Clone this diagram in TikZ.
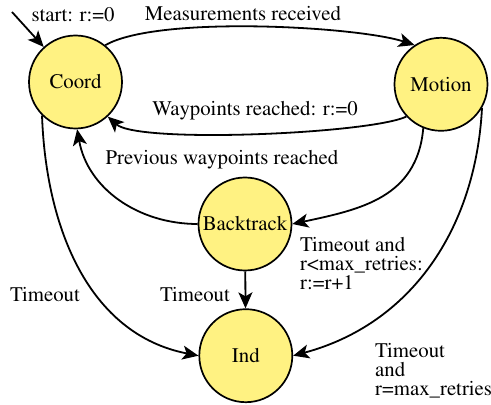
\documentclass[tikz,border=0pt]{standalone}
\usepackage[T1]{fontenc}
\usepackage{times}
\usetikzlibrary{arrows.meta}
\definecolor{stYellow}{RGB}{255,242,130}

\begin{document}
\begin{tikzpicture}[x=1pt,y=1pt,
      st/.style={circle,draw,line width=1.7pt,fill=stYellow,minimum size=93pt,inner sep=0pt,
        font=\fontsize{20.8}{19}\selectfont},
      tr/.style={line width=1.8pt,-{Stealth[length=16pt,width=14pt,inset=4pt]}},
      lab/.style={font=\fontsize{20.8}{19}\selectfont,inner sep=0pt},
      blk/.style={lab,align=left,anchor=north west}]
    \useasboundingbox (0,0) rectangle (491,405);
    \foreach \name/\x/\y/\txt in {
        coord/75.5/323/Coord,
        motion/441/320.7/Motion,
        back/245/181/Backtrack,
        ind/245.8/49.3/Ind} {
      \node[st] (\name) at (\x,\y) {\txt};
    }
    \coordinate (start) at (12,393);
    % transitions
    \draw[tr] (start) -- (coord);
    \draw[tr] (coord.51) to[out=30,in=162,looseness=0.5] (motion.124);
    \draw[tr] (motion.223) to[out=205,in=-42,looseness=0.35] (coord.-47);
    \draw[tr] (back.west) to[out=180,in=-80] (coord.-88);
    \draw[tr] (motion.-112) to[out=-95,in=12,looseness=1.1] (back.east);
    \draw[tr] (back) -- (ind);
    \draw[tr] (coord.-135) to[out=-88,in=169] (ind.west);
    \draw[tr] (motion.-30) to[out=-93,in=15] (ind.east);
    % labels
    \node[lab] (lstart) at (73,390) {start: r:=0};
    \node[lab] (lmeas) at (243,391) {Measurements received};
    \node[lab] (lway) at (255,294) {Waypoints reached: r:=0};
    \node[lab] (lprev) at (222,245) {Previous waypoints reached};
    \node[lab] (lto1) at (45,110) {Timeout};
    \node[lab] (lto2) at (195,110) {Timeout};
    \node[blk] (lretry) at (300,168) {Timeout and\\r<max\_retries:\\r:=r+1};
    \node[blk] (lmax) at (375,62) {Timeout\\and\\r=max\_retries};
  \end{tikzpicture}
\end{document}
